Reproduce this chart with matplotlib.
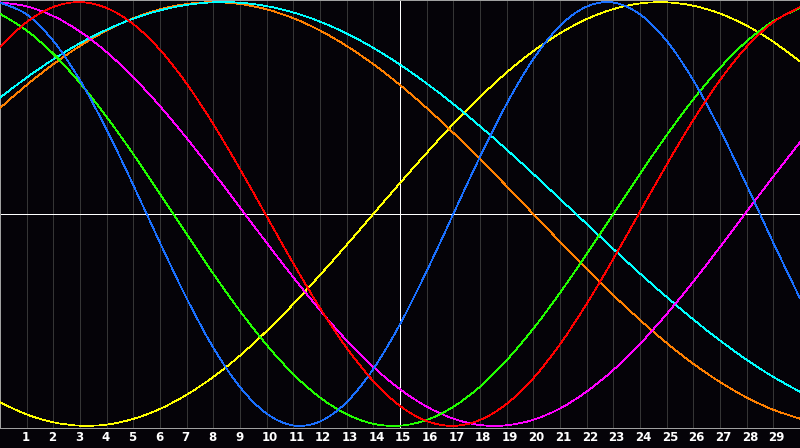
import numpy as np
import matplotlib
matplotlib.use("Agg")
import matplotlib.pyplot as plt
from matplotlib.path import Path
import matplotlib.transforms as mtransforms

# ---- data (values in percent, read at each day 0..30) ----
days = list(range(0, 31))
tick_days = list(range(1, 30))
tick_labels = [str(d) for d in tick_days]

red = [78.9, 90.6, 97.7, 100.0, 97.2, 89.6, 77.5, 61.5, 42.4, 21.2, -1.1, -23.3, -44.4,
       -63.2, -78.9, -90.6, -97.7, -100.0, -97.2, -89.6, -77.5, -61.5, -42.4, -21.2,
       1.1, 23.3, 44.4, 63.2, 78.9, 90.6, 97.7]
blue = [99.8, 94.2, 81.7, 63.1, 39.8, 13.6, -13.6, -39.8, -63.1, -81.7, -94.2, -99.8,
        -97.9, -88.8, -73.1, -52.0, -27.0, 0.0, 27.0, 52.0, 73.1, 88.8, 97.9, 99.8,
        94.2, 81.7, 63.1, 39.8, 13.6, -13.6, -39.8]
green = [94.5, 86.6, 75.6, 61.8, 45.8, 28.2, 9.5, -9.5, -28.2, -45.8, -61.8, -75.6,
         -86.6, -94.5, -99.0, -99.9, -97.2, -91.0, -81.5, -69.0, -54.1, -37.2, -18.9,
         0.0, 18.9, 37.2, 54.1, 69.0, 81.5, 91.0, 97.2]
yellow = [-88.9, -94.6, -98.3, -99.9, -99.4, -96.7, -92.0, -85.3, -76.9, -66.8, -55.2,
          -42.5, -28.8, -14.6, 0.0, 14.6, 28.8, 42.5, 55.2, 66.8, 76.9, 85.3, 92.0,
          96.7, 99.4, 99.9, 98.3, 94.6, 88.9, 81.3, 72.0]
cyan = [54.9, 64.4, 73.0, 80.6, 87.0, 92.2, 96.1, 98.7, 99.9, 99.7, 98.1, 95.1, 90.8,
        85.2, 78.4, 70.5, 61.6, 51.9, 41.4, 30.4, 18.9, 7.1, -4.7, -16.5, -28.1, -39.2,
        -49.8, -59.7, -68.8, -76.9, -83.9]
orange = [50.0, 60.9, 70.7, 79.3, 86.6, 92.4, 96.6, 99.1, 100.0, 99.1, 96.6, 92.4,
          86.6, 79.3, 70.7, 60.9, 50.0, 38.3, 25.9, 13.1, 0.0, -13.1, -25.9, -38.3,
          -50.0, -60.9, -70.7, -79.3, -86.6, -92.4, -96.6]
magenta = [99.9, 98.0, 93.4, 86.1, 76.4, 64.5, 50.9, 35.8, 19.7, 3.1, -13.6, -29.9,
           -45.4, -59.7, -72.2, -82.7, -90.9, -96.6, -99.6, -99.7, -97.1, -91.8,
           -83.8, -73.6, -61.3, -47.2, -31.9, -15.6, 1.1, 17.7, 33.9]

series = [
    (yellow, "#ffff00"),
    (orange, "#ff8000"),
    (cyan, "#00ffff"),
    (magenta, "#ff00ff"),
    (green, "#22ff00"),
    (blue, "#1a70ff"),
    (red, "#ff0000"),
]

BG = "#050308"
LW = 0.72  # 1 px at 100 dpi

fig = plt.figure(figsize=(8.0, 4.48), dpi=100, facecolor=BG)
ax = fig.add_axes([0, 20 / 448, 1, 428 / 448])
ax.set_facecolor(BG)
ax.set_xlim(0, 30)
ax.set_ylim(-101, 101)

# vertical day grid
for d in tick_days:
    ax.axvline(d, color="#353535", lw=LW, zorder=1, antialiased=False)

# center cross
ax.axhline(0, color="#ffffff", lw=LW, zorder=2, antialiased=False)
ax.axvline(15, color="#ffffff", lw=LW, zorder=2, antialiased=False)


def smooth_path(xs, ys):
    pts = np.column_stack([np.asarray(xs, float), np.asarray(ys, float)])
    n = len(pts)
    verts = [pts[0]]
    codes = [Path.MOVETO]
    for i in range(n - 1):
        p0 = pts[i - 1] if i > 0 else pts[i]
        p1 = pts[i]
        p2 = pts[i + 1]
        p3 = pts[i + 2] if i + 2 < n else pts[i + 1]
        verts += [p1 + (p2 - p0) / 6.0, p2 - (p3 - p1) / 6.0, p2]
        codes += [Path.CURVE4] * 3
    return Path(verts, codes)


for vals, col in series:
    # matplotlib flattens the Bezier path in pixel space; draw it as a line
    disp = ax.transData.transform_path(smooth_path(days, vals))
    poly = disp.to_polygons(closed_only=False)[0]
    dat = ax.transData.inverted().transform(poly)
    ax.plot(dat[:, 0], dat[:, 1], color=col, lw=0.55, zorder=3, antialiased=False)

for side in ["left", "right", "top", "bottom"]:
    ax.spines[side].set_color("#a0a0a0")
    ax.spines[side].set_linewidth(LW)

ax.set_yticks([])
ax.set_xticks(tick_days)
ax.set_xticklabels(tick_labels, color="white", fontsize=8.5, fontweight="bold",
                   family="DejaVu Sans")
ax.tick_params(axis="x", length=0, pad=2.5)
offset = mtransforms.ScaledTranslation(-5 / 100, 0, fig.dpi_scale_trans)
for lab in ax.get_xticklabels():
    lab.set_horizontalalignment("left")
    lab.set_transform(lab.get_transform() + offset)

fig.savefig("out.png", dpi=100, facecolor=BG)
